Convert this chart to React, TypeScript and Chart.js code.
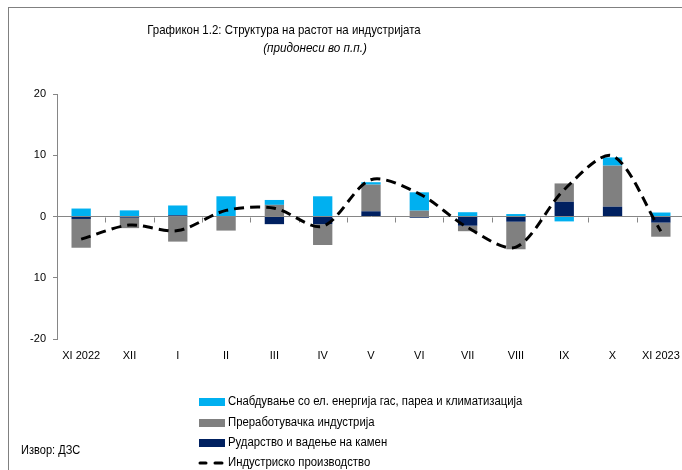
import React, { useEffect, useRef } from "react";
import { Chart, registerables } from "chart.js";

Chart.register(...registerables);

const categories = ["XI 2022", "XII", "I", "II", "III", "IV", "V", "VI", "VII", "VIII", "IX", "X", "XI 2023"];
const energy = [1.3, 1.0, 1.6, 3.3, 0.8, 3.3, 0.4, 3.0, 0.7, 0.4, -0.8, 1.35, 0.65];
const manufacturing = [-4.7, -1.7, -4.1, -2.3, 1.9, -3.4, 4.35, 0.95, -0.9, -4.5, 3.0, 6.7, -2.3];
const mining = [-0.4, -0.2, 0.2, 0, -1.25, -1.25, 0.85, -0.2, -1.5, -0.85, 2.4, 1.6, -1.0];
const industrial = [-3.7, -1.4, -2.3, 1.0, 1.35, -1.6, 6.0, 3.7, -1.8, -5.0, 4.4, 9.9, -2.4];

const yTickValues = [-20, -10, 0, 10, 20];
const yTickLabels = ["-20", "10", "0", "10", "20"];

const nameEnergy = "Снабдување со ел. енергија гас, пареа и климатизација";
const nameManufacturing = "Преработувачка индустрија";
const nameMining = "Рударство и вадење на камен";
const nameIndustrial = "Индустриско производство";

const titleText = "Графикон 1.2: Структура на растот на индустријата";
const subtitleText = "(придонеси во п.п.)";
const sourceText = "Извор: ДЗС";

const COL_ENERGY = "#00B0F0";
const COL_MANUF = "#808080";
const COL_MINING = "#002060";
const AXIS = "#868686";
const FONT = '"Liberation Sans", Arial, sans-serif';

function drawScaledText(ctx: any, text: string, x: number, y: number, sx: number, align: string) {
  ctx.save();
  ctx.translate(x, y);
  ctx.scale(sx, 1);
  ctx.textAlign = align;
  ctx.fillText(text, 0, 0);
  ctx.restore();
}

const decorPlugin = {
  id: "decor",
  beforeDatasetsDraw(chart: any) {
    const { ctx } = chart;
    const x = chart.scales.x;
    const y = chart.scales.y;
    const y0 = y.getPixelForValue(0);
    ctx.save();
    ctx.strokeStyle = AXIS;
    ctx.lineWidth = 1;
    for (let i = 0; i < categories.length - 1; i++) {
      const bx = Math.round((x.getPixelForValue(i) + x.getPixelForValue(i + 1)) / 2) + 0.5;
      ctx.beginPath();
      ctx.moveTo(bx, Math.round(y0) + 0.5);
      ctx.lineTo(bx, Math.round(y0) + 5.5);
      ctx.stroke();
    }
    ctx.restore();
  },
  afterDraw(chart: any) {
    const { ctx } = chart;
    ctx.save();
    ctx.fillStyle = "#000";
    ctx.textBaseline = "middle";
    ctx.font = `13px ${FONT}`;
    drawScaledText(ctx, titleText, 284, 30, 0.88, "center");
    ctx.font = `italic 13px ${FONT}`;
    drawScaledText(ctx, subtitleText, 315, 48, 0.9, "center");

    ctx.font = `12px ${FONT}`;
    const items = [
      { name: nameEnergy, color: COL_ENERGY, y: 402, line: false },
      { name: nameManufacturing, color: COL_MANUF, y: 423, line: false },
      { name: nameMining, color: COL_MINING, y: 443, line: false },
      { name: nameIndustrial, color: "#000", y: 463, line: true },
    ];
    for (const it of items) {
      if (it.line) {
        ctx.strokeStyle = it.color;
        ctx.lineWidth = 3;
        ctx.lineCap = "round";
        ctx.beginPath();
        ctx.moveTo(200, it.y);
        ctx.lineTo(206, it.y);
        ctx.moveTo(215, it.y);
        ctx.lineTo(222, it.y);
        ctx.stroke();
      } else {
        ctx.fillStyle = it.color;
        ctx.fillRect(199, it.y - 4, 26, 8);
      }
      ctx.fillStyle = "#000";
      drawScaledText(ctx, it.name, 228, it.y, 0.945, "left");
    }
    ctx.font = `12px ${FONT}`;
    drawScaledText(ctx, sourceText, 21, 451, 0.92, "left");
    ctx.restore();
  },
};

export default function App() {
  const ref = useRef<HTMLCanvasElement | null>(null);

  useEffect(() => {
    if (!ref.current) return;
    const chart = new Chart(ref.current, {
      type: "bar",
      data: {
        labels: categories,
        datasets: [
          {
            type: "line",
            label: nameIndustrial,
            data: industrial,
            borderColor: "#000",
            borderWidth: 3,
            borderDash: [10, 6],
            pointRadius: 0,
            tension: 0.3,
            fill: false,
            stack: "line",
            order: 0,
          } as any,
          {
            label: nameMining,
            data: mining,
            backgroundColor: COL_MINING,
            stack: "bars",
            order: 1,
            barPercentage: 0.4,
            categoryPercentage: 1,
          },
          {
            label: nameManufacturing,
            data: manufacturing,
            backgroundColor: COL_MANUF,
            stack: "bars",
            order: 1,
            barPercentage: 0.4,
            categoryPercentage: 1,
          },
          {
            label: nameEnergy,
            data: energy,
            backgroundColor: COL_ENERGY,
            stack: "bars",
            order: 1,
            barPercentage: 0.4,
            categoryPercentage: 1,
          },
        ],
      },
      options: {
        responsive: false,
        devicePixelRatio: 1,
        animation: false,
        layout: { padding: { left: 0, right: 15, top: 94, bottom: 101 } },
        plugins: { legend: { display: false }, tooltip: { enabled: false }, title: { display: false } },
        scales: {
          x: {
            stacked: true,
            offset: true,
            grid: { display: false, drawTicks: false },
            border: { display: false },
            ticks: { color: "#000", font: { family: FONT, size: 11 }, padding: 10, maxRotation: 0, autoSkip: false },
            afterFit: (s: any) => { s.height = 30; },
          },
          y: {
            stacked: true,
            min: -20,
            max: 20,
            afterBuildTicks: (s: any) => { s.ticks = yTickValues.map((v) => ({ value: v })); },
            grid: {
              drawOnChartArea: true,
              color: (c: any) => (c.tick && c.tick.value === 0 ? AXIS : "rgba(0,0,0,0)"),
              tickColor: AXIS,
              tickLength: 4,
              drawTicks: true,
            },
            border: { display: true, color: AXIS },
            ticks: {
              color: "#000",
              font: { family: FONT, size: 11 },
              padding: 7,
              callback: (v: any) => {
                const i = yTickValues.indexOf(Number(v));
                return i >= 0 ? yTickLabels[i] : "";
              },
            },
            afterFit: (s: any) => { s.width = 57; },
          },
        },
      },
      plugins: [decorPlugin],
    });
    return () => chart.destroy();
  }, []);

  return (
    <div style={{ position: "fixed", left: 0, top: 0, width: 682, height: 470, overflow: "hidden", background: "#fff" }}>
      <div
        style={{
          position: "absolute",
          left: 8,
          top: 7,
          width: 700,
          height: 500,
          borderLeft: "1px solid #808080",
          borderTop: "1px solid #808080",
        }}
      />
      <canvas ref={ref} width={700} height={470} style={{ position: "absolute", left: 0, top: 0, width: 700, height: 470 }} />
    </div>
  );
}
